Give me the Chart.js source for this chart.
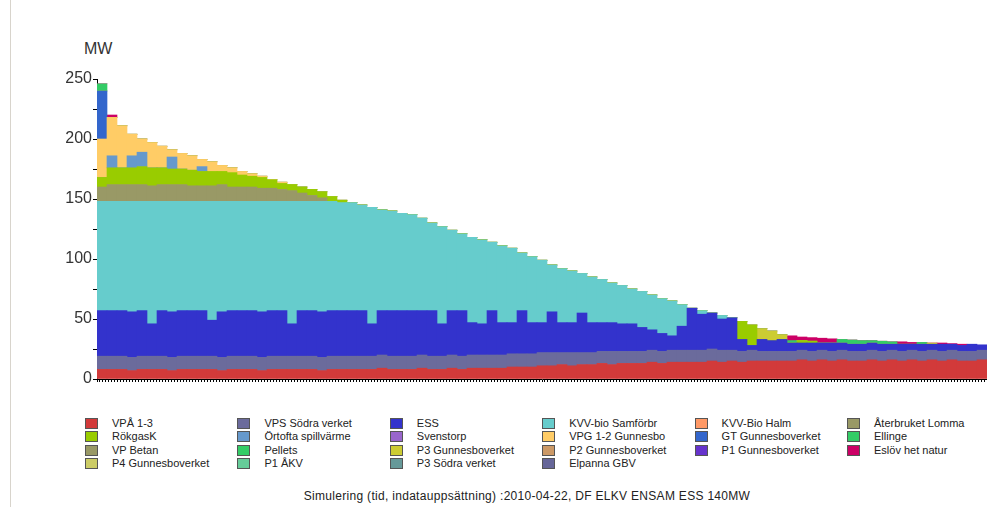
<!DOCTYPE html>
<html><head><meta charset="utf-8">
<script src="https://cdn.jsdelivr.net/npm/chart.js@4.4.1/dist/chart.umd.min.js"></script>
<style>
html,body{margin:0;padding:0;background:#fff;width:987px;height:507px;overflow:hidden;font-family:"Liberation Sans",Arial,sans-serif;}
#frame{position:absolute;left:10px;top:0;width:1px;height:507px;background:#d8d4cc;}
#wrap{position:absolute;left:0;top:0;width:987px;height:390px;}
#mw{position:absolute;left:84px;top:40px;font-size:16px;color:#333;}
#legend{position:absolute;left:0;top:0;}
.li{position:absolute;font-size:11px;color:#222;white-space:nowrap;height:13px;line-height:13px}
.li .b{position:absolute;left:-27px;top:1px;width:11px;height:9px;border:1px solid #555;}
#foot{position:absolute;left:0;width:1054px;top:489px;text-align:center;font-size:12px;letter-spacing:0.3px;color:#222;}
</style></head>
<body>
<div id="frame"></div>
<div id="mw">MW</div>
<div id="wrap"><canvas id="c"></canvas></div>
<div id="legend"></div>
<div id="foot">Simulering (tid, indatauppsättning) :2010-04-22, DF ELKV ENSAM ESS 140MW</div>
<script>
// Load duration curve, MW per unit (stacked), sorted hours left to right
const vpa13 = [8,8,8,7,8,8,8,7,8,8,8,8,7,8,8,8,7,8,8,8,8,8,7,8,8,
  8,8,8,9,8,8,8,9,8,8,9,8,9,9,9,9,10,10,10,11,11,12,11,12,12,13,12,13,13,13,14,13,14,14,
  14,14,15,14,15,14,15,15,15,15,15,16,15,16,15,16,15,15,16,15,16,15,16,15,16,15,16,15,15,16];
const vpsSodra = [11,11,11,11,11,11,11,11,11,11,11,11,11,11,11,11,11,11,11,11,11,11,11,11,11,
  11,11,11,11,11,11,11,11,11,11,11,11,11,11,11,11,11,11,11,11,11,10,11,10,10,10,11,10,10,10,10,10,10,10,
  10,10,10,10,9,9,9,8,8,8,8,8,8,8,8,8,8,8,8,8,8,8,8,8,8,8,8,8,8,8];
const ess = [38,38,38,38,38,27,38,38,38,38,38,30,38,38,38,38,38,38,38,27,38,38,38,38,38,
  38,38,27,37,38,38,38,37,38,27,37,38,27,26,37,27,26,36,26,25,34,25,25,33,25,24,24,23,23,20,17,15,12,20,
  35,30,30,26,27,10,4,10,9,10,7,6,7,6,7,6,6,6,6,6,5,6,5,6,5,6,5,5,6,4.5];
const kvvBio = [91,91,91,92,91,102,91,92,91,91,91,99,92,91,91,91,92,91,91,102,91,91,92,91,90,
  90,88,97,84,83,81,80,77,73,81,67,64,71,70,57,64,62,48,55,52,39,45,43,33,38,36,33,32,29,30,29,29,29,18,
  0,3,0,3,0];
const vpBetan = [12,14,14,14,14,13,14,14,14,13,13,13,14,12,12,12,11,11,10,9,7,5,3];
const rokgasK = [8,14,14,14,15,15,14,13,13,13,12,12,11,12,10,9,9,7,5,5,5,5,5,4,2,
  0,0,0,0,0,0,0,0,0,0,0,0,0,0,0,0,0,0,0,0,0,0,0,0,0,0,0,0,0,0,0,0,0,0,
  0,0,0,0,0,15,17,0,0,0,0,2,1.5];
const ortofta = [0,10,0,10,12,0,0,10,0,0,4];
const vpg12 = [32,32,35,18,11,21,18,6,13,12,6,8,5,4,3,2,1,0,1];
const gtGunnes = [40];
const p3Gunnes = [0,0,0,0,0,0,0,0,0,0,0,0,0,0,0,0,0,0,0,0,0,0,0,0,0,
  0,0,0,0,0,0,0,0,0,0,0,0,0,0,0,0,0,0,0,0,0,0,0,0,0,0,0,0,0,0,0,0,0,0,
  0,0,0,0,0,0,0,9,8,4,0,0,0,0,0,0,0,0,0,0,0,0,0,0,1];
const ellinge = [6,0,0,0,0,0,0,0,0,0,0,0,0,0,0,0,0,0,0,0,0,0,0,0,0,
  0,0,0,0,0,0,0,0,0,0,0,0,0,0,0,0,0,0,0,0,0,0,0,0,0,0,0,0,0,0,0,0,0,0,
  0,0,0,0,0,0,0,0,0,0,2,0,0,0,0,3,3.5,3,2,2.5,2,0,0,1.5];
const eslov = [0,2,0,0,0,0,0,0,0,0,0,0,0,0,0,0,0,0,0,0,0,0,0,0,0,
  0,0,0,0,0,0,0,0,0,0,0,0,0,0,0,0,0,0,0,0,0,0,0,0,0,0,0,0,0,0,0,0,0,0,
  0,0,0,0,0,0,0,0,0,0,4,3,3,4,3.5,0,0,0,0,0,0,2,1.5,0,0,1,0.5,1];
const empty = [];

const categories = vpa13.map((_, i) => String(i + 1));

// Stack order (bottom to top)
const series = [
  {label:'VPÅ 1-3', data:vpa13, color:'#d23a3a'},
  {label:'VPS Södra verket', data:vpsSodra, color:'#6b6b9c'},
  {label:'ESS', data:ess, color:'#3333cc'},
  {label:'KVV-bio Samförbr', data:kvvBio, color:'#66cccc'},
  {label:'VP Betan', data:vpBetan, color:'#999966'},
  {label:'RökgasK', data:rokgasK, color:'#99cc00'},
  {label:'Örtofta spillvärme', data:ortofta, color:'#6699cc'},
  {label:'VPG 1-2 Gunnesbo', data:vpg12, color:'#ffcc66'},
  {label:'GT Gunnesboverket', data:gtGunnes, color:'#3366cc'},
  {label:'P3 Gunnesboverket', data:p3Gunnes, color:'#cccc33'},
  {label:'Ellinge', data:ellinge, color:'#33cc66'},
  {label:'Eslöv het natur', data:eslov, color:'#cc0066'},
  {label:'P4 Gunnesboverket', data:empty, color:'#cccc66'},
  {label:'Pellets', data:empty, color:'#33cc66'},
  {label:'P1 ÅKV', data:empty, color:'#66cc99'},
  {label:'Svenstorp', data:empty, color:'#9966cc'},
  {label:'P3 Södra verket', data:empty, color:'#669999'},
  {label:'P2 Gunnesboverket', data:empty, color:'#cc9966'},
  {label:'Elpanna GBV', data:empty, color:'#666699'},
  {label:'KVV-Bio Halm', data:empty, color:'#ff9966'},
  {label:'P1 Gunnesboverket', data:empty, color:'#6633cc'},
  {label:'Återbruket Lomma', data:empty, color:'#999966'}
];

// Legend order (column-major, 4 rows)
const legendOrder = ['VPÅ 1-3','RökgasK','VP Betan','P4 Gunnesboverket',
  'VPS Södra verket','Örtofta spillvärme','Pellets','P1 ÅKV',
  'ESS','Svenstorp','P3 Gunnesboverket','P3 Södra verket',
  'KVV-bio Samförbr','VPG 1-2 Gunnesbo','P2 Gunnesboverket','Elpanna GBV',
  'KVV-Bio Halm','GT Gunnesboverket','P1 Gunnesboverket',
  'Återbruket Lomma','Ellinge','Eslöv het natur'];
const legendCols = [4,4,4,4,3,3];

const chart = new Chart(document.getElementById('c'), {
  type:'bar',
  data:{labels:categories, datasets:series.map(s => ({label:s.label, data:s.data, backgroundColor:s.color, borderWidth:0}))},
  options:{
    responsive:true, maintainAspectRatio:false, animation:false,
    layout:{padding:{top:79,left:0,right:0,bottom:0}},
    plugins:{legend:{display:false}, tooltip:{enabled:false}},
    datasets:{bar:{categoryPercentage:1, barPercentage:1}},
    scales:{
      x:{type:'category', stacked:true, display:false},
      xt:{type:'linear', position:'bottom', min:0, max:297,
          ticks:{display:false, stepSize:1},
          grid:{drawOnChartArea:false, tickLength:3, color:'#000'},
          border:{display:true, color:'#000'},
          afterFit(s){ s.height = 11; }},
      y:{stacked:true, min:0, max:250,
         ticks:{stepSize:25, padding:1, color:'#333', font:{size:16, family:'Liberation Sans'},
                callback:v => (v % 50 === 0 ? v : '')},
         grid:{drawOnChartArea:false, tickLength:4, color:'#000'},
         border:{color:'#000'},
         afterFit(s){ s.width = 97; }}
    }
  }
});

// HTML legend built from the chart's datasets
const leg = document.getElementById('legend');
let idx = 0;
legendCols.forEach((n, col) => {
  for (let row = 0; row < n; row++) {
    const name = legendOrder[idx++];
    const ds = chart.data.datasets.find(d => d.label === name);
    const el = document.createElement('div');
    el.className = 'li';
    el.style.left = (112 + 152.4 * col) + 'px';
    el.style.top = (417 + 13.3 * row) + 'px';
    const b = document.createElement('span');
    b.className = 'b';
    b.style.background = ds.backgroundColor;
    el.appendChild(b);
    el.appendChild(document.createTextNode(ds.label));
    leg.appendChild(el);
  }
});
</script>
</body></html>
